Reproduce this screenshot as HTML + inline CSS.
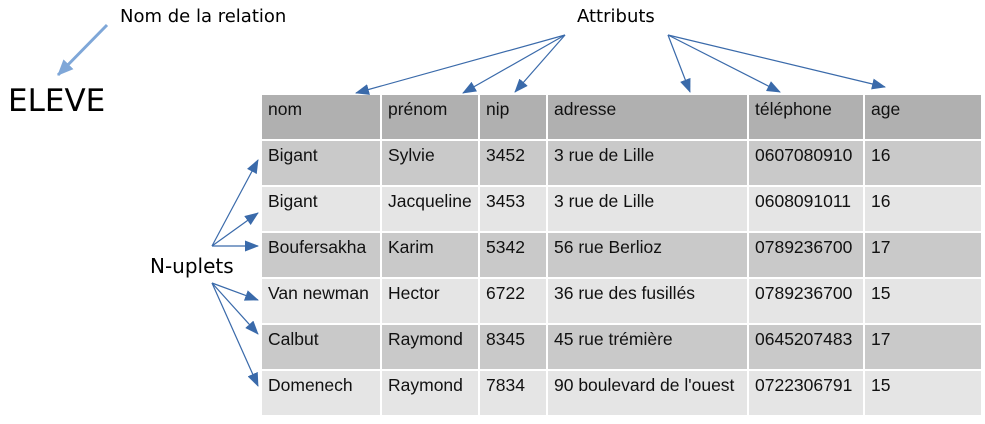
<!DOCTYPE html>
<html><head><meta charset="utf-8"><style>
body{margin:0;width:985px;height:424px;background:#fff;position:relative;overflow:hidden;font-family:"DejaVu Sans","Liberation Sans",sans-serif}
.t{position:absolute;color:#000;white-space:nowrap}
table{position:absolute;left:260px;top:93px;border-collapse:collapse;font-family:"Liberation Sans",sans-serif;font-size:17.5px;color:#111;table-layout:fixed;width:721px}
td{border:2px solid #fff;padding:4px 6px 0 6px;vertical-align:top;height:40px;box-sizing:content-box;white-space:nowrap;overflow:hidden}
tr.h td{background:#b0b0b0}
tr.d td{background:#c9c9c9}
tr.l td{background:#e5e5e5}
</style></head><body>
<div class="t" style="left:120px;top:6px;font-size:18px">Nom de la relation</div>
<div class="t" style="left:8px;top:83px;font-size:31px">ELEVE</div>
<div class="t" style="left:577px;top:6px;font-size:18px">Attributs</div>
<div class="t" style="left:150px;top:254px;font-size:20px">N-uplets</div>
<table>
<colgroup><col style="width:120px"><col style="width:98px"><col style="width:68px"><col style="width:201px"><col style="width:116px"><col style="width:118px"></colgroup>
<tr class="h"><td>nom</td><td>prénom</td><td>nip</td><td>adresse</td><td>téléphone</td><td>age</td></tr>
<tr class="d"><td>Bigant</td><td>Sylvie</td><td>3452</td><td>3 rue de Lille</td><td>0607080910</td><td>16</td></tr>
<tr class="l"><td>Bigant</td><td>Jacqueline</td><td>3453</td><td>3 rue de Lille</td><td>0608091011</td><td>16</td></tr>
<tr class="d"><td>Boufersakha</td><td>Karim</td><td>5342</td><td>56 rue Berlioz</td><td>0789236700</td><td>17</td></tr>
<tr class="l"><td>Van newman</td><td>Hector</td><td>6722</td><td>36 rue des fusillés</td><td>0789236700</td><td>15</td></tr>
<tr class="d"><td>Calbut</td><td>Raymond</td><td>8345</td><td>45 rue trémière</td><td>0645207483</td><td>17</td></tr>
<tr class="l"><td>Domenech</td><td>Raymond</td><td>7834</td><td>90 boulevard de l'ouest</td><td>0722306791</td><td>15</td></tr>
</table>
<svg width="985" height="424" style="position:absolute;left:0;top:0">
<defs>
<marker id="a" markerWidth="14" markerHeight="11" refX="13" refY="5.5" orient="auto" markerUnits="userSpaceOnUse"><path d="M0,0 L14,5.5 L0,11 z" fill="#3a6aaa"/></marker>
<marker id="b" markerWidth="16" markerHeight="14" refX="15" refY="7" orient="auto" markerUnits="userSpaceOnUse"><path d="M0,0 L16,7 L0,14 z" fill="#7fa7d8"/></marker>
</defs>
<line x1="107" y1="25" x2="58" y2="75" stroke="#7fa7d8" stroke-width="3" marker-end="url(#b)"/>
<g stroke="#3a6aaa" stroke-width="1.2" marker-end="url(#a)">
<line x1="565" y1="35" x2="356" y2="93"/>
<line x1="565" y1="35" x2="463" y2="93"/>
<line x1="565" y1="35" x2="515" y2="92"/>
<line x1="668" y1="35" x2="690" y2="92"/>
<line x1="668" y1="35" x2="780" y2="92"/>
<line x1="668" y1="35" x2="885" y2="87"/>
<line x1="212" y1="246" x2="258" y2="160"/>
<line x1="212" y1="246" x2="258" y2="213"/>
<line x1="212" y1="246" x2="258" y2="246"/>
<line x1="212" y1="283" x2="258" y2="300"/>
<line x1="212" y1="283" x2="258" y2="334"/>
<line x1="212" y1="283" x2="258" y2="386"/>
</g>
</svg>
</body></html>
